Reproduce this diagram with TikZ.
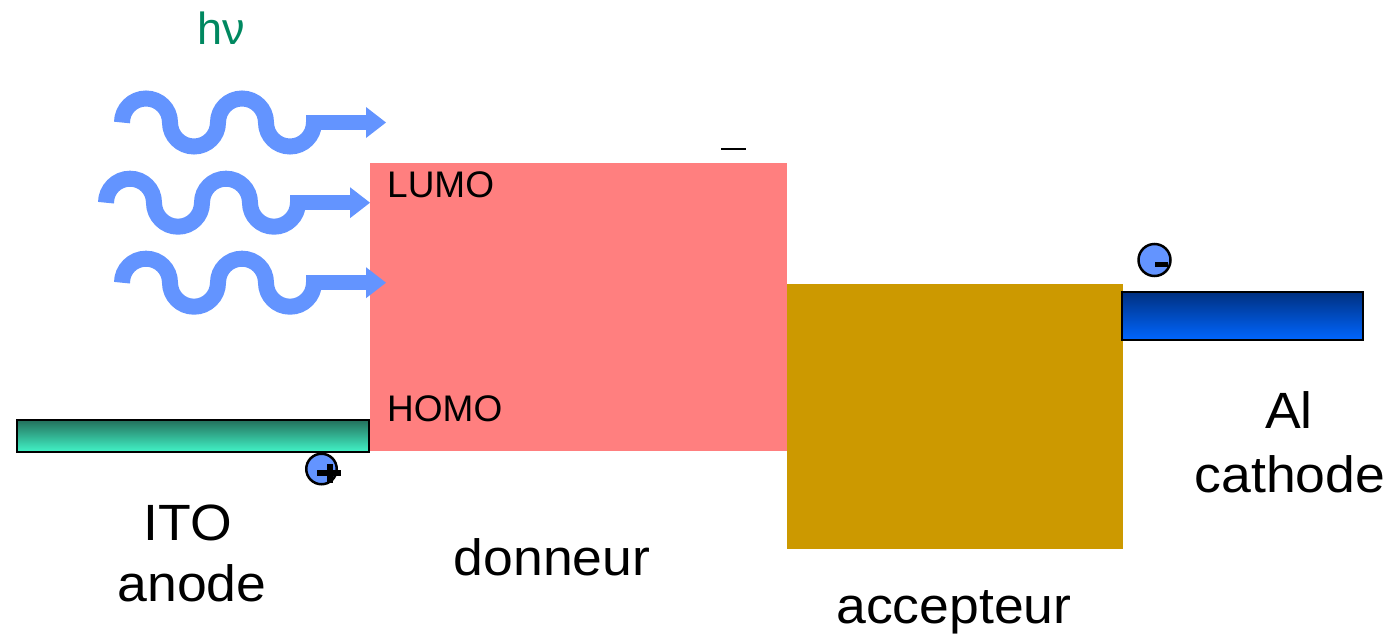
\documentclass[tikz,border=0pt]{standalone}
\usepackage{fontspec}
\setmainfont{Liberation Sans}
\newfontfamily\labelfont[FakeStretch=1.05]{Liberation Sans}
\definecolor{wave}{RGB}{99,148,255}
\definecolor{donor}{RGB}{255,127,127}
\definecolor{acceptor}{RGB}{204,153,0}
\definecolor{hnu}{RGB}{0,136,96}
\definecolor{itotop}{RGB}{35,112,92}
\definecolor{itobot}{RGB}{66,245,200}
\definecolor{altop}{RGB}{0,48,128}
\definecolor{albot}{RGB}{0,102,255}
\newcommand\photonwave[2]{%
  \draw[wavepath] ({#1+8},{-#2}) arc[start angle=180,end angle=0,radius=24]
    arc[start angle=180,end angle=360,radius=24]
    arc[start angle=180,end angle=0,radius=24]
    arc[start angle=180,end angle=360,radius=24];
  \fill[wave] ({#1+192},{-#2+7.5}) rectangle ({#1+253},{-#2-7.5});
  \fill[wave] ({#1+252},{-#2+15.5}) -- ({#1+272},{-#2}) -- ({#1+252},{-#2-15.5}) -- cycle;}
\begin{document}
\begin{tikzpicture}[x=1pt,y=1pt,
  big/.style={font=\labelfont\fontsize{51}{60}\selectfont, inner sep=0pt, anchor=base},
  level/.style={font=\fontsize{37}{40}\selectfont, inner sep=0pt, anchor=base west},
  wavepath/.style={draw=wave, line width=16pt, line cap=butt},
  electrode/.style={draw=black, line width=2.5pt},
  chargecirc/.style={circle, fill=wave, draw=black, line width=2.5pt, inner sep=0pt}]
\useasboundingbox (0,0) rectangle (1390,-635);
% layers
\fill[donor] (370,-163) rectangle (787,-451);
\fill[acceptor] (787,-284) rectangle (1123,-549);
% electrodes
\path[electrode, top color=itotop, bottom color=itobot] (17,-420) rectangle (369,-452);
\path[electrode, top color=altop, bottom color=albot] (1122,-292) rectangle (1363,-340);
% photons
\photonwave{114}{122.5}
\photonwave{98}{202.7}
\photonwave{114}{282.7}
% charges
\node[chargecirc, minimum size=30.5pt] (hole) at (321.5,-469) {};
\fill (317,-470) rectangle (341,-476);
\fill (327,-464) rectangle (333,-483);
\node[chargecirc, minimum size=32pt] (elec) at (1154.5,-260) {};
\fill (1155,-262) rectangle (1168,-267);
\draw[line width=1.5pt] (721,-149) -- (746,-149);
% labels
\node[font=\fontsize{45}{50}\selectfont, text=hnu, inner sep=0pt, anchor=base] (hv) at (221,-44) {hν};
\node[level] (lumo) at (387,-197) {LUMO};
\node[level] (homo) at (387,-421) {HOMO};
\node[big] (ito) at (188,-540) {ITO};
\node[big] (anode) at (192,-601) {anode};
\node[big] (don) at (552,-575) {donneur};
\node[big] (acc) at (954,-623) {accepteur};
\node[big] (al) at (1289,-428) {Al};
\node[big] (cat) at (1290,-492) {cathode};
\end{tikzpicture}
\end{document}
